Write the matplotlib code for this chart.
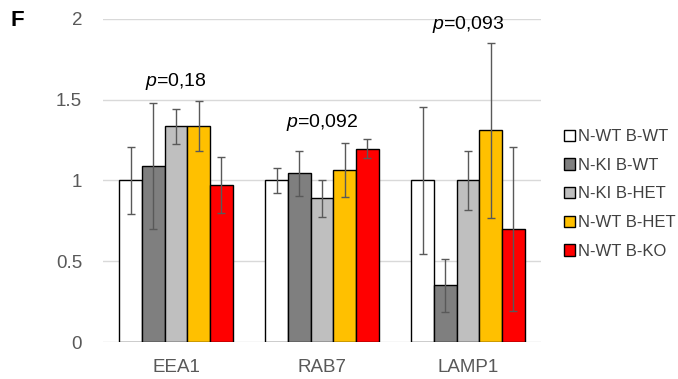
import numpy as np
import matplotlib
matplotlib.use("Agg")
import matplotlib.pyplot as plt

plt.rcParams['font.family'] = ['Liberation Sans', 'DejaVu Sans']
plt.rcParams['mathtext.fontset'] = 'custom'
plt.rcParams['mathtext.rm'] = 'Liberation Sans'
plt.rcParams['mathtext.it'] = 'Liberation Sans:italic'

categories = ['EEA1', 'RAB7', 'LAMP1']
groups = ['N-WT B-WT', 'N-KI B-WT', 'N-KI B-HET', 'N-WT B-HET', 'N-WT B-KO']
colors = ['#ffffff', '#7f7f7f', '#bfbfbf', '#ffc000', '#ff0000']

means = [
    [1.00, 1.00, 1.00],    # N-WT B-WT
    [1.09, 1.045, 0.35],   # N-KI B-WT
    [1.335, 0.89, 1.00],   # N-KI B-HET
    [1.337, 1.065, 1.31],  # N-WT B-HET
    [0.972, 1.197, 0.70],  # N-WT B-KO
]
errors = [
    [0.21, 0.08, 0.457],
    [0.39, 0.14, 0.165],
    [0.11, 0.115, 0.185],
    [0.155, 0.165, 0.54],
    [0.175, 0.06, 0.505],
]
pvals = ['0,18', '0,092', '0,093']
p_y = [1.61, 1.36, 1.965]

fig = plt.figure(figsize=(6.78, 3.79), dpi=100)
ax = fig.add_axes([0.152, 0.0976, 0.646, 0.8524])

x = np.arange(len(categories))
w = 1 / 6.43
for i, g in enumerate(groups):
    ax.bar(x + (i - 2) * w, means[i], w, color=colors[i], edgecolor='black',
           linewidth=1.0, label=g, zorder=3,
           yerr=errors[i], ecolor='#595959',
           error_kw=dict(elinewidth=1.0, capsize=3, capthick=1.0, zorder=4))

# p-value labels
for k, p in enumerate(pvals):
    ax.text(x[k], p_y[k], r'$p$=' + p, fontsize=14, ha='center', va='center')

ax.set_ylim(0, 2)
ax.set_xlim(-0.5, 2.5)
ax.set_yticks([0, 0.5, 1, 1.5, 2])
ax.set_yticklabels(['0', '0.5', '1', '1.5', '2'])
ax.set_xticks(x)
ax.set_xticklabels(categories)
ax.grid(axis='y', color='#d9d9d9', linewidth=1.0, zorder=0)
for s in ax.spines.values():
    s.set_visible(False)
ax.tick_params(length=0, labelsize=13.5, labelcolor='#595959')
ax.tick_params(axis='x', pad=12)
ax.tick_params(axis='y', pad=15)

ax.legend(loc='center left', bbox_to_anchor=(564 / 678, 1 - 194 / 379),
          bbox_transform=fig.transFigure, borderaxespad=0, borderpad=0,
          frameon=False, fontsize=12, handlelength=0.65, handleheight=0.65,
          handletextpad=0.2, labelspacing=0.82, labelcolor='#404040')

fig.text(0.015, 0.945, 'F', fontsize=16, fontweight='bold', va='center')

fig.savefig('out.png', dpi=100)
